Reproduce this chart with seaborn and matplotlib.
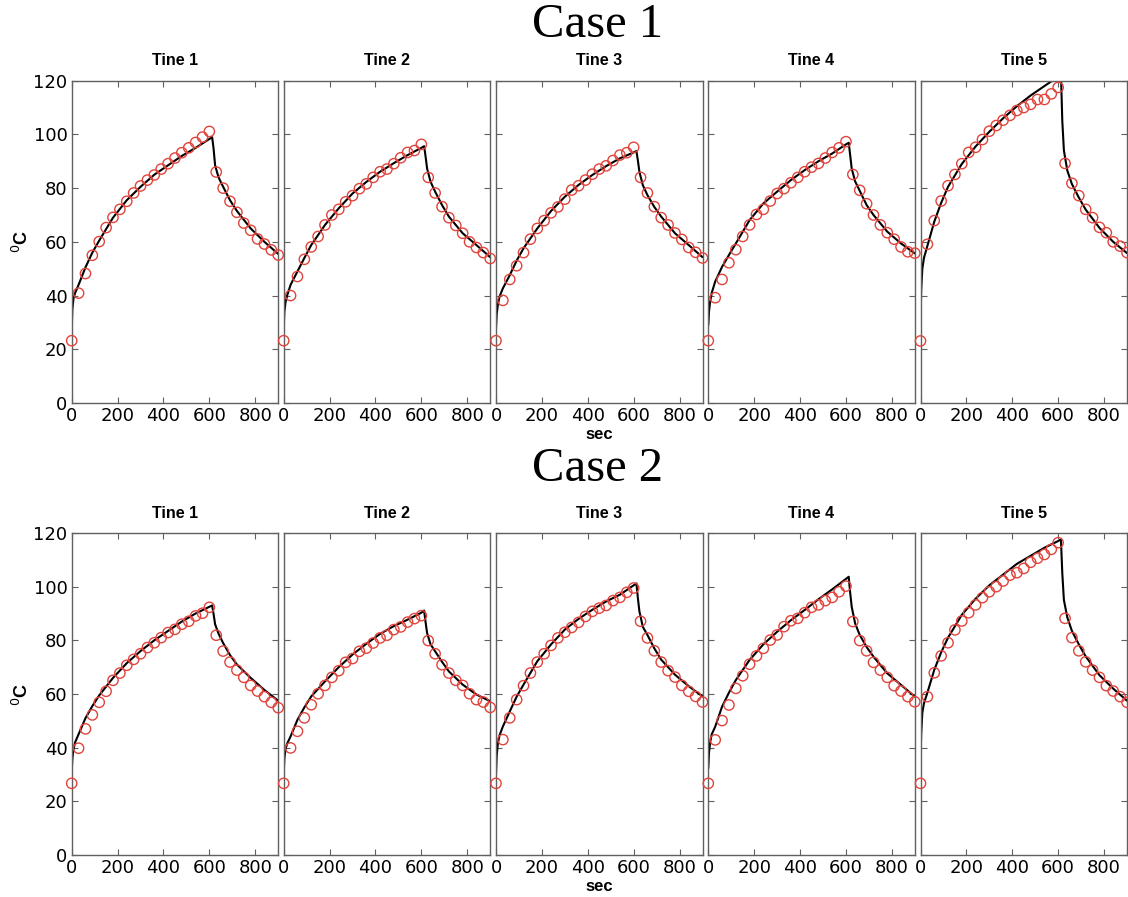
import matplotlib
matplotlib.use("Agg")
import matplotlib.pyplot as plt
import seaborn as sns
import numpy as np

# ---------------- data ----------------
meas_t = [0, 30, 60, 90, 120, 150, 180, 210, 240, 270, 300, 330, 360, 390, 420,
          450, 480, 510, 540, 570, 600, 630, 660, 690, 720, 750, 780, 810, 840, 870, 900]
model_t = [0, 3, 8, 15, 30, 60, 90, 120, 180, 240, 300, 360, 420, 480, 540, 600,
           612, 618, 625, 640, 660, 690, 720, 780, 840, 900]

tine_names = ["Tine 1", "Tine 2", "Tine 3", "Tine 4", "Tine 5"]
case_names = ["Case 1", "Case 2"]

# Case 1 measured
c1_t1_meas = [23.2, 40.9, 48.2, 55.0, 60.1, 65.3, 69.1, 72.1, 75.1, 78.2, 80.8, 83.0, 84.9, 87.1, 89.1,
              91.2, 93.2, 95.0, 97.0, 99.0, 101.1, 86.0, 80.0, 75.1, 71.0, 67.0, 64.3, 61.1, 59.2, 57.0, 55.1]
c1_t2_meas = [23.2, 40.0, 47.1, 53.5, 58.1, 62.0, 66.3, 70.0, 72.1, 74.9, 77.2, 79.8, 81.6, 84.0, 86.1,
              87.1, 89.1, 91.3, 93.3, 94.0, 96.3, 84.0, 78.2, 73.1, 69.0, 66.1, 63.2, 60.0, 57.9, 56.0, 53.8]
c1_t3_meas = [23.2, 38.2, 46.0, 51.1, 56.0, 61.0, 65.0, 67.9, 70.8, 73.0, 75.9, 79.3, 80.9, 83.0, 85.2,
              87.1, 88.3, 90.3, 92.3, 93.2, 95.2, 84.0, 78.2, 73.1, 69.0, 66.3, 63.3, 60.9, 57.9, 56.1, 54.0]
c1_t4_meas = [23.2, 39.2, 46.0, 52.2, 57.1, 62.0, 66.3, 70.2, 72.1, 75.2, 78.0, 79.8, 82.0, 84.0, 86.1,
              87.8, 89.2, 91.2, 93.3, 95.0, 97.3, 85.1, 79.2, 74.2, 70.0, 66.3, 63.4, 61.0, 58.1, 56.3, 55.8]
c1_t5_meas = [23.1, 59.1, 67.9, 75.2, 80.9, 85.1, 89.1, 93.3, 95.2, 98.1, 101.2, 103.3, 105.3, 107.1, 108.9,
              110.0, 111.2, 113.0, 113.0, 115.1, 117.5, 89.2, 81.8, 77.2, 72.1, 69.0, 65.4, 63.4, 60.0, 58.4, 56.0]

# Case 1 model
c1_t1_model = [27, 35, 39, 41, 44, 50.5, 56, 60.5, 69, 75.5, 80.5, 85, 88.5, 92, 95, 98.3,
               99, 95, 88.5, 84, 80.5, 75.5, 71.5, 65, 60, 55.5]
c1_t2_model = [27.5, 34, 37.5, 40, 44, 49, 54, 58.8, 66.3, 72.5, 78, 82.3, 86.1, 89.3, 92.3, 95,
               95.6, 92, 87.3, 82.4, 78.7, 73.7, 69.4, 63.2, 58.8, 54.3]
c1_t3_model = [27.8, 33, 36.5, 39.5, 42.7, 47.6, 53, 57.6, 65, 71.5, 76.8, 81.2, 84.9, 88.2, 91.1, 93.3,
               93.8, 90.5, 86.1, 81.1, 77.4, 73, 69.4, 63.2, 58.8, 54.3]
c1_t4_model = [29, 34, 37.7, 41, 45.2, 50.7, 55.1, 59.4, 68.1, 74.3, 78.7, 83, 86.7, 90, 92.9, 96.3,
               96.9, 92.5, 87.3, 82.5, 79, 73.7, 70, 63.8, 59.4, 55.7]
c1_t5_model = [32, 42, 50, 54, 58.5, 67.5, 74.5, 80.5, 89, 95.5, 101, 106, 110.5, 114.5, 118, 121.5,
               123, 105, 94, 86.5, 81.5, 76.5, 72, 65.2, 60, 55.8]

# Case 2 measured
c2_t1_meas = [26.7, 39.8, 47.0, 52.2, 56.9, 61.0, 65.1, 67.8, 70.7, 72.9, 75.0, 77.3, 79.1, 81.0, 82.9,
              84.1, 86.0, 87.1, 89.1, 90.1, 92.3, 81.9, 76.0, 71.9, 68.9, 66.2, 63.2, 61.1, 59.0, 56.9, 54.9]
c2_t2_meas = [26.7, 39.9, 46.1, 51.1, 56.0, 60.1, 63.2, 66.2, 68.7, 71.8, 73.2, 75.9, 77.1, 79.0, 80.9,
              81.9, 84.0, 85.0, 86.8, 88.1, 89.2, 79.9, 75.0, 70.9, 67.8, 65.1, 63.2, 60.1, 57.9, 57.0, 55.0]
c2_t3_meas = [26.7, 43.0, 51.1, 57.9, 63.1, 67.8, 71.9, 75.0, 78.1, 80.9, 83.0, 84.8, 86.7, 88.9, 90.8,
              92.0, 93.0, 94.8, 96.0, 97.9, 99.5, 87.1, 80.9, 76.1, 71.9, 68.7, 66.3, 63.2, 61.0, 59.1, 57.0]
c2_t4_meas = [26.7, 42.9, 50.1, 55.9, 62.1, 66.8, 71.1, 74.2, 77.0, 80.1, 82.0, 85.1, 87.3, 88.2, 90.3,
              92.3, 93.2, 94.8, 96.0, 98.1, 100.2, 87.0, 79.9, 76.1, 71.8, 68.9, 66.2, 63.1, 61.1, 59.0, 57.1]
c2_t5_meas = [26.7, 59.0, 67.9, 74.2, 79.1, 83.9, 87.2, 90.3, 93.2, 95.9, 98.1, 100.0, 102.1, 104.3, 105.2,
              106.8, 109.1, 110.6, 112.0, 113.9, 116.4, 88.2, 81.0, 76.1, 72.0, 68.9, 66.2, 63.1, 61.1, 59.0, 56.9]

# Case 2 model
c2_t1_model = [31, 36, 39.5, 42, 45, 51, 55.5, 59.5, 66, 71.5, 76, 80, 83.5, 87, 90, 92.5,
               93, 90, 86, 82.5, 79, 74.5, 71, 66, 61.5, 57.5]
c2_t2_model = [30, 36, 39.5, 41.5, 44.2, 50.4, 55, 59.1, 64.7, 70, 74.7, 78.7, 82.4, 85.3, 87.7, 90.3,
               91.1, 87, 82.7, 78.5, 75.9, 72, 68.4, 63.5, 59.8, 57.3]
c2_t3_model = [30, 37, 41.5, 44.5, 47.9, 53.5, 59, 63.5, 72.2, 78.5, 84, 88, 91.4, 94.5, 97, 100.5,
               101.2, 96, 90.8, 85, 82, 77, 72.8, 67.2, 62.9, 59.1]
c2_t4_model = [32.3, 38, 42, 45, 47.8, 55.3, 60.5, 65.2, 72.7, 78.5, 83.2, 87.5, 91.3, 95.3, 99, 102.9,
               103.7, 98, 92.5, 86.3, 82, 77.5, 73.9, 67.7, 63.4, 59]
c2_t5_model = [35, 45, 53, 56.5, 60.5, 69, 75.5, 81, 89.5, 95.5, 100.5, 104.5, 108.5, 111.5, 114.5, 117,
               117.6, 105, 95, 88.5, 83.5, 78.5, 74, 67, 62, 57.5]

measured = [[c1_t1_meas, c1_t2_meas, c1_t3_meas, c1_t4_meas, c1_t5_meas],
            [c2_t1_meas, c2_t2_meas, c2_t3_meas, c2_t4_meas, c2_t5_meas]]
model = [[c1_t1_model, c1_t2_model, c1_t3_model, c1_t4_model, c1_t5_model],
         [c2_t1_model, c2_t2_model, c2_t3_model, c2_t4_model, c2_t5_model]]

x_ticks = [0, 200, 400, 600, 800]
y_ticks = [0, 20, 40, 60, 80, 100, 120]

# ---------------- style ----------------
sns.set_theme(style="white")
plt.rcParams['font.family'] = ['Liberation Sans', 'DejaVu Sans']
plt.rcParams['text.color'] = 'black'
plt.rcParams['axes.labelcolor'] = 'black'
plt.rcParams['xtick.color'] = 'black'
plt.rcParams['ytick.color'] = 'black'

W, H = 1128, 897
fig = plt.figure(figsize=(W / 100, H / 100), dpi=100)
fig.patch.set_facecolor('white')

lefts = [71.7, 283.7, 496.0, 708.3, 920.5]
pw = 206.5
rows = [(80.7, 403.0), (533.0, 855.0)]
spine_col = '#606060'
red = '#e0443c'
tick_font = dict(family='DejaVu Sans', size=13)

for r in range(2):
    top, bot = rows[r]
    for c in range(5):
        ax = fig.add_axes([lefts[c] / W, 1 - bot / H, pw / W, (bot - top) / H])
        sns.lineplot(x=model_t, y=model[r][c], ax=ax, color='black', linewidth=1.5,
                     estimator=None, sort=False)
        sns.scatterplot(x=meas_t, y=measured[r][c], ax=ax, s=55, marker='o',
                        linewidth=1.0, zorder=3)
        coll = ax.collections[-1]
        coll.set_facecolor('none')
        coll.set_edgecolor(red)
        coll.set_clip_on(False)
        ax.set_xlim(0, 900)
        ax.set_ylim(0, 120)
        ax.set_xticks(x_ticks)
        ax.set_yticks(y_ticks)
        ax.tick_params(axis='both', which='both', direction='in', length=4, width=0.8,
                       color=spine_col, top=True, right=True, bottom=True, left=True,
                       pad=3, labelcolor='black')
        ax.set_xticklabels([str(v) for v in x_ticks], fontdict=tick_font)
        if c == 0:
            ax.set_yticklabels([str(v) for v in y_ticks], fontdict=tick_font)
        else:
            ax.set_yticklabels([])
        for s in ax.spines.values():
            s.set_color(spine_col)
            s.set_linewidth(1.0)
        ax.set_xlabel('')
        ax.set_ylabel('')
        ax.set_title(tine_names[c], fontsize=11.5, fontweight='bold', pad=11, color='black')
        if c == 0:
            ax.set_ylabel('$^0$C', fontsize=13, fontweight='bold', labelpad=1)
        if c == 2:
            ax.set_xlabel('sec', fontsize=12, fontweight='bold', labelpad=1)

fig.text(598 / W, 1 - 25 / H, case_names[0], family='Liberation Serif', fontsize=35,
         ha='center', va='center', color='black')
fig.text(598 / W, 1 - 469 / H, case_names[1], family='Liberation Serif', fontsize=35,
         ha='center', va='center', color='black')

fig.savefig('out.png', dpi=100, facecolor='white')
